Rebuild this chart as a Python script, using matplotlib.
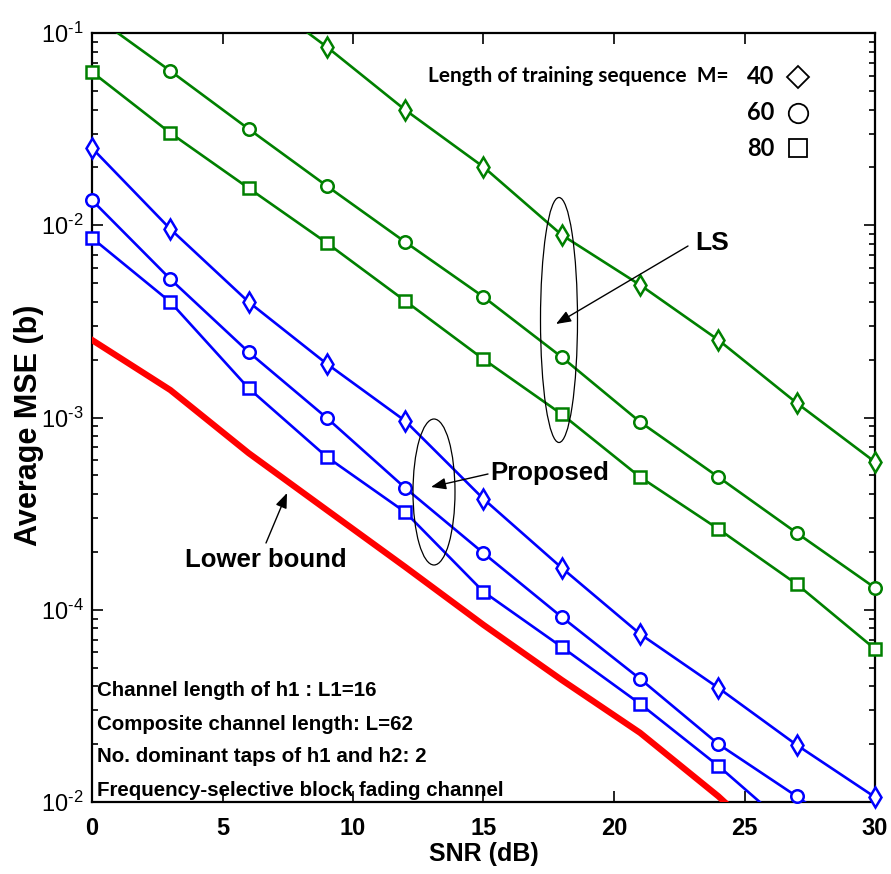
import numpy as np
import matplotlib
matplotlib.use("Agg")
import matplotlib.pyplot as plt
from matplotlib.patches import Ellipse
from matplotlib.ticker import FixedLocator, FixedFormatter, LogLocator, NullFormatter

plt.rcParams['font.family'] = ['Liberation Sans', 'DejaVu Sans']
plt.rcParams['mathtext.fontset'] = 'custom'
plt.rcParams['mathtext.rm'] = 'Liberation Sans'
plt.rcParams['mathtext.it'] = 'Liberation Sans:italic'
plt.rcParams['mathtext.bf'] = 'Liberation Sans:bold'

# ---------------- data ----------------
snr = [0, 3, 6, 9, 12, 15, 18, 21, 24, 27, 30]

ls_m40 = [0.70, 0.34, 0.17, 0.0846, 0.0398, 0.0201, 0.0089, 0.00489, 0.00253, 0.00119, 0.000587]
ls_m60 = [0.125, 0.0635, 0.0317, 0.0160, 0.00818, 0.00424, 0.00206, 0.000948, 0.00049, 0.000251, 0.00013]
ls_m80 = [0.0627, 0.0302, 0.0156, 0.00809, 0.00404, 0.00201, 0.00104, 0.00049, 0.000263, 0.000136, 6.25e-5]

prop_m40 = [0.0252, 0.00956, 0.00399, 0.0019, 0.00096, 0.000377, 0.000165, 7.48e-5, 3.92e-5, 1.98e-5, 1.06e-5]
prop_m60 = [0.0135, 0.00525, 0.00219, 0.000994, 0.00043, 0.000197, 9.16e-5, 4.37e-5, 2.0e-5, 1.07e-5, 5.5e-6]
prop_m80 = [0.00859, 0.00399, 0.00142, 0.000623, 0.000322, 0.000124, 6.4e-5, 3.24e-5, 1.54e-5, 6.8e-6, 3.0e-6]

lower_bound = [0.00253, 0.00139, 0.000653, 0.00033, 0.000167, 8.34e-5, 4.31e-5, 2.29e-5, 1.07e-5, 4.5e-6, 2.0e-6]

x_ticks = [0, 5, 10, 15, 20, 25, 30]
y_ticks = [1e-5, 1e-4, 1e-3, 1e-2, 1e-1]
y_tick_labels = [r'$10^{\text{-}2}$', r'$10^{\text{-}4}$', r'$10^{\text{-}3}$',
                 r'$10^{\text{-}2}$', r'$10^{\text{-}1}$']

M_values = ['40', '60', '80']
markers = ['d', 'o', 's']

info_lines = ["Channel length of h1 : L1=16",
              "Composite channel length: L=62",
              "No. dominant taps of h1 and h2: 2",
              "Frequency-selective block fading channel"]

# ---------------- figure ----------------
W, H = 891, 874
fig = plt.figure(figsize=(W / 100, H / 100), dpi=100)
L, R, T, B = 92, 875, 33, 802
ax = fig.add_axes([L / W, 1 - B / H, (R - L) / W, (B - T) / H])

ymin, ymax = 1e-5, 1e-1
ax.set_yscale('log')
ax.set_xlim(0, 30)
ax.set_ylim(ymin, ymax)

GREEN = '#008000'
BLUE = '#0000ff'
RED = '#ff0000'
msizes = {'d': 10, 'o': 9, 's': 9}


def draw(y, color, mk):
    y = np.asarray(y)
    x = np.asarray(snr)
    ax.plot(x, y, '-', color=color, lw=1.9, zorder=3)
    m = (y >= ymin * 0.97) & (y <= ymax)
    ax.plot(x[m], y[m], linestyle='none', marker=mk, ms=msizes[mk],
            mfc='white', mec=color, mew=1.8, clip_on=False, zorder=4)


for ys, mk in zip([ls_m40, ls_m60, ls_m80], markers):
    draw(ys, GREEN, mk)
for ys, mk in zip([prop_m40, prop_m60, prop_m80], markers):
    draw(ys, BLUE, mk)
ax.plot(snr, lower_bound, '-', color=RED, lw=4.5, zorder=3)

# ticks
ax.xaxis.set_major_locator(FixedLocator(x_ticks))
ax.set_xticklabels([str(v) for v in x_ticks], fontsize=17, fontweight='bold')
ax.yaxis.set_major_locator(FixedLocator(y_ticks))
ax.yaxis.set_major_formatter(FixedFormatter(y_tick_labels))
ax.yaxis.set_minor_locator(LogLocator(base=10, subs=np.arange(2, 10), numticks=20))
ax.yaxis.set_minor_formatter(NullFormatter())
ax.tick_params(which='both', direction='in', top=True, right=True, width=1.2)
ax.tick_params(which='major', length=8)
ax.tick_params(which='minor', length=4)
ax.tick_params(axis='y', labelsize=17, pad=6)
ax.tick_params(axis='x', pad=11)
for s in ax.spines.values():
    s.set_linewidth(1.6)

ax.set_xlabel('SNR (dB)', fontsize=18, fontweight='bold')
ax.set_ylabel('Average MSE (b)', fontsize=22, fontweight='bold')
ax.yaxis.set_label_coords((44 - L) / (R - L), 0.49)
ax.xaxis.set_label_coords(0.5, -(842 - B) / (B - T))


def af(px, py):
    return ((px - L) / (R - L), (B - py) / (B - T))


# ellipses
for (cx, cy, w, h) in [(559, 320, 37, 245), (434, 492, 42, 146)]:
    c = af(cx, cy)
    ax.add_patch(Ellipse(c, w / (R - L), h / (B - T), transform=ax.transAxes,
                         fill=False, ec='black', lw=0.9, zorder=5))

arrow_kw = dict(arrowstyle='-|>,head_length=0.9,head_width=0.35', color='black', lw=1.0,
                shrinkA=0, shrinkB=0)
ax.annotate('', xy=af(556, 324), xytext=af(688, 246), xycoords='axes fraction',
            textcoords='axes fraction', arrowprops=arrow_kw, zorder=6)
ax.annotate('', xy=af(431, 487), xytext=af(488, 474), xycoords='axes fraction',
            textcoords='axes fraction', arrowprops=arrow_kw, zorder=6)
ax.annotate('', xy=af(287, 493), xytext=af(266, 543), xycoords='axes fraction',
            textcoords='axes fraction', arrowprops=arrow_kw, zorder=6)

ax.text(*af(712, 243), 'LS', transform=ax.transAxes, fontsize=19, fontweight='bold',
        ha='center', va='center')
ax.text(*af(490, 473), 'Proposed', transform=ax.transAxes, fontsize=18.5, fontweight='bold',
        ha='left', va='center')
ax.text(*af(266, 560), 'Lower bound', transform=ax.transAxes, fontsize=18.5, fontweight='bold',
        ha='center', va='center')

for i, line in enumerate(info_lines):
    ax.text(*af(97, 691 + 33 * i), line, transform=ax.transAxes, fontsize=14.8,
            fontweight='bold', ha='left', va='center')

# legend-like key
ax.text(*af(729, 76), 'Length of training sequence  M=', transform=ax.transAxes,
        fontsize=15, fontweight='bold', family=['Lato', 'DejaVu Sans'], ha='right', va='center')
key_ms = {'d': 11, 'o': 14, 's': 13}
for i, (mv, mk) in enumerate(zip(M_values, markers)):
    py = 77 + 35.5 * i
    ax.text(*af(761, py), mv, transform=ax.transAxes, fontsize=17, fontweight='bold',
            family=['Lato', 'DejaVu Sans'], ha='center', va='center')
    ax.plot([af(798, py)[0]], [af(798, py)[1]], transform=ax.transAxes,
            marker='D' if mk == 'd' else mk, ms=key_ms[mk], mfc='white', mec='black',
            mew=1.3, linestyle='none', clip_on=False, zorder=6)

fig.savefig('out.png', dpi=100)
